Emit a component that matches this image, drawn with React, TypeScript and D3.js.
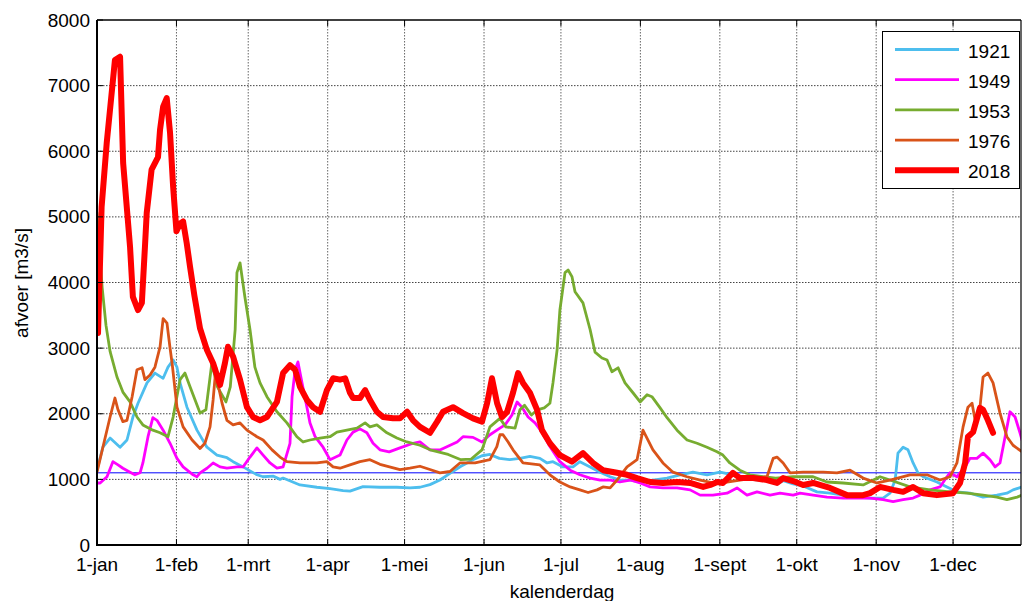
import React from "react";
import * as d3 from "d3";

type Pt = [number, number];

const monthDays = [0, 31, 59, 90, 120, 151, 181, 212, 243, 273, 304, 334];
const monthLabels = ["1-jan", "1-feb", "1-mrt", "1-apr", "1-mei", "1-jun", "1-jul", "1-aug", "1-sept", "1-okt", "1-nov", "1-dec"];
const yTicks = [0, 1000, 2000, 3000, 4000, 5000, 6000, 7000, 8000];
const refLevel = 1100;

const s1921: Pt[] = [[0,1140],[2.3,1490],[5.1,1630],[9,1490],[11.7,1600],[14,1950],[16,2160],[19.5,2470],[22.6,2620],[25.8,2540],[27.7,2710],[29.7,2820],[31.2,2710],[32.4,2470],[35.1,2100],[39,1750],[42.9,1490],[46.8,1370],[50.7,1330],[53.1,1270],[57,1190],[59.7,1130],[62.4,1070],[64.8,1040],[68.7,1050],[71.4,1000],[72.6,1020],[79.2,915],[85.8,880],[90.9,860],[96,830],[98.7,820],[103.8,890],[110.4,880],[117,880],[122.1,870],[126,880],[129.9,920],[133.8,990],[138,1100],[142,1200],[146.7,1300],[150.2,1360],[153.3,1380],[157,1320],[161,1300],[165,1320],[168.9,1350],[172.8,1320],[175.6,1250],[177.9,1270],[181.8,1190],[185.7,1190],[188.4,1270],[192.4,1190],[196.3,1110],[200.2,1040],[204,990],[208,990],[211.9,960],[216.9,990],[222.4,1020],[227.5,1070],[232.5,1110],[238,1070],[243.1,1110],[248.1,1070],[251,1040],[254.8,1000],[258.7,990],[263.8,1000],[265.3,930],[267.7,980],[271.6,930],[275.5,900],[280.9,810],[286,790],[291.1,760],[296.5,730],[301.6,715],[306.7,715],[309.4,790],[311.4,990],[312.5,1400],[314.5,1490],[316.4,1450],[318.4,1250],[320.3,1100],[322.3,1040],[327.7,960],[331.6,885],[335.5,810],[340.6,790],[345.7,730],[351.1,760],[355,790],[357.4,840],[360.9,885]];

const s1949: Pt[] = [[0,945],[1.2,945],[3.9,1040],[6.2,1270],[8.2,1220],[10.1,1170],[12.9,1110],[14.8,1070],[16.8,1100],[17.9,1250],[19.9,1650],[21.8,1940],[23.4,1900],[25.8,1750],[28.5,1550],[31.2,1320],[33.6,1190],[37.5,1070],[39,1040],[40.2,1100],[42.9,1170],[45.3,1250],[48,1190],[50.7,1170],[54.6,1190],[57,1190],[59.7,1340],[62.4,1480],[64.8,1370],[67.5,1250],[70.2,1170],[72.6,1190],[75.3,1550],[76.1,2260],[77.3,2670],[78.4,2790],[80,2470],[81.9,2100],[83.1,1860],[85.1,1650],[88.2,1490],[90.9,1300],[94.8,1370],[97.5,1600],[99.9,1720],[102.6,1770],[105.3,1710],[107.7,1550],[110.4,1450],[114,1420],[118.2,1480],[123.3,1550],[126,1570],[129.9,1450],[134,1450],[140.5,1570],[142.8,1650],[146.7,1640],[150.2,1570],[153.3,1680],[157.2,1780],[159.2,1830],[161.9,1980],[163.9,2180],[165.8,2100],[168.2,1950],[170.9,1860],[173.6,1720],[176.7,1500],[180.6,1270],[184.6,1140],[188.4,1070],[192.4,1020],[196.3,990],[200.2,990],[204,960],[208,990],[211.9,945],[215.8,885],[220.8,870],[226.3,870],[231.4,840],[235.3,760],[240.3,760],[245.8,790],[249.7,870],[253.6,760],[257.5,810],[262.6,760],[266.5,790],[271.6,760],[274.3,790],[279.4,760],[284.8,730],[291.1,715],[301.6,715],[306.7,690],[310.6,660],[314.5,690],[318.4,715],[321.1,760],[325,840],[328.9,885],[331.6,1040],[332.8,1100],[335.5,1040],[338.7,1190],[340.6,1320],[343.3,1320],[345.7,1400],[348.4,1300],[350.4,1190],[352.3,1250],[354.3,1650],[356.2,2030],[358.2,1950],[360.1,1710],[360.9,1600]];

const s1953: Pt[] = [[0,5060],[2,3930],[3.5,3350],[5.1,2950],[7.8,2560],[10.1,2330],[12.9,2180],[15.6,1950],[17.9,1830],[21.8,1750],[24.6,1710],[27.7,1650],[29.7,1950],[32.4,2520],[34.3,2620],[36.3,2410],[40.2,2010],[42.5,2060],[44.8,2770],[47,2410],[50.3,2180],[52,2410],[53.9,3280],[54.6,4150],[55.8,4300],[57.7,3780],[59.7,3280],[61.6,2710],[63.6,2470],[66.3,2260],[70.2,2030],[74.1,1860],[78,1650],[80.4,1570],[83.1,1600],[87,1630],[90.9,1650],[93.6,1720],[97.5,1750],[101.4,1780],[104.6,1860],[106.5,1800],[109.2,1830],[113.1,1710],[117,1630],[120.9,1570],[126,1520],[130,1450],[137,1380],[142,1300],[146,1310],[150.2,1450],[153.3,1800],[157.2,1930],[159.5,1800],[163.1,1780],[165,2060],[166.8,2130],[169.5,1980],[171.8,2060],[174.5,2090],[176.7,2160],[177.9,2470],[179.5,2970],[180.6,3580],[182.6,4150],[183.8,4190],[185.3,4090],[186.5,3860],[189.6,3690],[192.4,3280],[194.3,2940],[197,2850],[199,2820],[200.9,2640],[203.3,2700],[206,2470],[209.1,2320],[211.9,2180],[214.6,2290],[216.5,2260],[219.7,2090],[222.4,1940],[226.3,1750],[230.2,1600],[234.1,1550],[238,1490],[241.9,1420],[244.2,1370],[246.9,1250],[250.8,1140],[254.7,1070],[259.8,1040],[264.8,1020],[271.6,1040],[279.4,1040],[284.8,960],[291.1,945],[298.9,915],[305.5,1040],[309.4,990],[317.2,885],[325,840],[332.8,810],[339.4,790],[345.7,760],[351.1,730],[355,690],[359,730],[360.9,760]];

const s1976: Pt[] = [[0,1110],[2.3,1490],[5.1,1950],[7,2240],[8.2,2060],[10.1,1880],[11.7,1900],[13.7,2260],[15.6,2670],[17.6,2700],[18.7,2520],[20.7,2590],[22.6,2710],[24.6,3020],[25.8,3450],[27.3,3380],[28.5,3000],[29.3,2770],[31.2,2100],[33.6,1800],[37.1,1600],[40.2,1470],[42.1,1550],[44.1,1800],[45.3,2210],[46.4,2700],[47.2,2450],[48.8,2160],[50.7,1900],[53.1,1830],[55.8,1860],[58.5,1750],[62.4,1650],[64.8,1600],[68.3,1450],[71.4,1340],[74.1,1270],[79.2,1250],[85.8,1250],[89.7,1270],[92.1,1190],[94.8,1170],[98.7,1220],[102.6,1270],[106.5,1300],[110.4,1230],[118.2,1150],[122.1,1170],[126,1200],[129.9,1150],[133.8,1100],[137.7,1120],[141.6,1250],[147.5,1250],[153.3,1300],[156,1500],[157.2,1680],[158.4,1680],[160.4,1570],[162.3,1450],[166.2,1250],[172.8,1220],[176.7,1070],[180.6,960],[184.6,885],[188.4,840],[191.6,800],[195.1,840],[197.4,885],[200.2,870],[202.9,990],[206.8,1190],[210.7,1300],[213,1750],[216.9,1450],[220.8,1250],[224.7,1110],[230.2,1040],[235.3,990],[240.3,945],[245.8,960],[250.9,990],[256,1020],[261.4,1040],[263.8,1320],[265.3,1340],[267.7,1250],[270.4,1100],[275.5,1110],[283.3,1110],[288.7,1100],[293.8,1140],[298.9,1020],[304.3,945],[309.4,990],[317.2,1070],[323.8,1070],[328.9,990],[332.8,1040],[335.5,1250],[337.9,1800],[339.8,2100],[341.4,2160],[342.6,1900],[344.5,2100],[345.7,2560],[347.6,2620],[349.6,2470],[352.3,2010],[355,1650],[357.4,1520],[360.9,1420]];

const s2018: Pt[] = [[0.4,3230],[1.8,5150],[3.8,6130],[7,7390],[9,7440],[10.2,5820],[12.9,4540],[14,3780],[16,3580],[17.5,3690],[18.7,4540],[19.4,5060],[21.3,5720],[23.8,5910],[24.6,6330],[25.8,6680],[27.2,6810],[28.5,6280],[29.7,5460],[31,4780],[32.4,4900],[33.6,4930],[35,4600],[36.3,4240],[38,3800],[40.2,3300],[42.9,2970],[45.3,2770],[48,2440],[49.9,2770],[51.1,3020],[53.1,2870],[55.8,2520],[58.5,2100],[60.9,1950],[63.6,1900],[66.3,1950],[70.2,2180],[72.6,2620],[75.3,2740],[77.3,2670],[79.2,2410],[81.9,2210],[84.3,2100],[87,2030],[89.7,2360],[92.1,2540],[94.8,2520],[96.8,2540],[98.7,2320],[99.9,2240],[102.6,2240],[104.6,2360],[106.5,2210],[109.2,2030],[111.6,1950],[115.5,1930],[118.2,1930],[121,2030],[123.3,1900],[126,1800],[129.9,1710],[132.7,1880],[135,2030],[138.9,2100],[142.8,2010],[146.7,1930],[150.2,1880],[152.2,2160],[154.1,2540],[156.1,2160],[158,1950],[160,2030],[162.3,2320],[164.3,2620],[166.2,2470],[168.9,2320],[171.7,2060],[173.6,1750],[176.7,1550],[180.6,1370],[185.3,1270],[189.6,1400],[193.5,1250],[197.4,1140],[202.9,1100],[206.8,1070],[210.7,1020],[215.8,960],[220.8,945],[226.4,960],[231.4,945],[236.5,885],[239.3,915],[242,960],[244.2,945],[248.1,1100],[250.9,1020],[256,1020],[261.4,990],[265.3,945],[267.7,1020],[271.6,975],[275.5,915],[279.4,945],[286,870],[292.6,760],[298.9,760],[301.6,790],[305.5,885],[310.6,840],[314.5,810],[318.4,885],[322.3,790],[327.7,760],[334,790],[336.7,945],[338.7,1250],[339.8,1650],[341.8,1720],[344.5,2090],[345.7,2060],[347.6,1900],[349.6,1710]];

const seriesNames = ["1921", "1949", "1953", "1976", "2018"];
const seriesData = [s1921, s1949, s1953, s1976, s2018];
const seriesColors = ["#4DBEEE", "#FF00FF", "#77AC30", "#D95319", "#FF0000"];
const seriesWidths = [2.8, 2.8, 2.8, 2.8, 6];

const W = 1022, H = 601;
const L = 97, R = 1021, T = 20, B = 545;
const FONT = "'Liberation Sans', Arial, Helvetica, sans-serif";

export default function App() {
  const x = d3.scaleLinear().domain([0, 360.5]).range([L, R]);
  const y = d3.scaleLinear().domain([0, 8000]).range([B, T]);
  const line = d3.line<Pt>().x(d => x(d[0])).y(d => y(d[1]));

  return (
    <svg width={W} height={H} style={{ position: "absolute", left: 0, top: 0, background: "#fff" }} fontFamily={FONT}>
      <defs>
        <clipPath id="plot"><rect x={L} y={T} width={R - L} height={B - T} /></clipPath>
      </defs>
      <rect x={0} y={0} width={W} height={H} fill="#fff" />
      {yTicks.filter(v => v > 0 && v < 8000).map(v => (
        <line key={"gy" + v} x1={L} x2={R} y1={y(v)} y2={y(v)} stroke="#444" strokeWidth={1} strokeDasharray="1.5,1.5" />
      ))}
      {monthDays.filter(d => d > 0).map(d => (
        <line key={"gx" + d} x1={x(d)} x2={x(d)} y1={T} y2={B} stroke="#666" strokeWidth={1} strokeDasharray="1.5,1.5" />
      ))}
      <line x1={L} x2={R} y1={y(refLevel)} y2={y(refLevel)} stroke="#0000FF" strokeWidth={1} />
      <g clipPath="url(#plot)">
        {seriesData.map((s, i) => (
          <path key={seriesNames[i]} d={line(s) || ""} fill="none" stroke={seriesColors[i]} strokeWidth={seriesWidths[i]} strokeLinejoin="round" strokeLinecap="round" />
        ))}
      </g>
      <line x1={L} x2={R} y1={T} y2={T} stroke="#000" strokeWidth={1.5} />
      <line x1={R} x2={R} y1={T} y2={B} stroke="#000" strokeWidth={1.2} />
      <line x1={L} x2={L} y1={T} y2={B + 1} stroke="#000" strokeWidth={2} />
      <line x1={L - 1} x2={R} y1={B} y2={B} stroke="#000" strokeWidth={2} />
      {monthDays.map(d => (
        <g key={"tx" + d}>
          <line x1={x(d)} x2={x(d)} y1={B} y2={B - 6} stroke="#000" strokeWidth={1} />
          <line x1={x(d)} x2={x(d)} y1={T} y2={T + 6} stroke="#000" strokeWidth={1} />
        </g>
      ))}
      {yTicks.map(v => (
        <line key={"ty" + v} x1={L} x2={L + 6} y1={y(v)} y2={y(v)} stroke="#000" strokeWidth={1} />
      ))}
      {yTicks.map(v => (
        <text key={"ly" + v} x={90} y={y(v) + 6.5} textAnchor="end" fontSize={19} fill="#000">{v}</text>
      ))}
      {monthDays.map((d, i) => (
        <text key={"lx" + d} x={x(d)} y={571} textAnchor="middle" fontSize={19} fill="#000">{monthLabels[i]}</text>
      ))}
      <text x={562} y={598} textAnchor="middle" fontSize={19} fill="#000">kalenderdag</text>
      <text transform={`translate(28,${283}) rotate(-90)`} textAnchor="middle" fontSize={19} fill="#000">afvoer [m3/s]</text>
      <rect x={882.5} y={31.5} width={137} height={157} fill="#fff" stroke="#000" strokeWidth={1} />
      {seriesNames.map((n, i) => {
        const ly = 49.5 + i * 30.2;
        return (
          <g key={"lg" + n}>
            <line x1={895} x2={959} y1={ly} y2={ly} stroke={seriesColors[i]} strokeWidth={seriesWidths[i]} />
            <text x={968} y={ly + 8} fontSize={19} fill="#000">{n}</text>
          </g>
        );
      })}
    </svg>
  );
}
